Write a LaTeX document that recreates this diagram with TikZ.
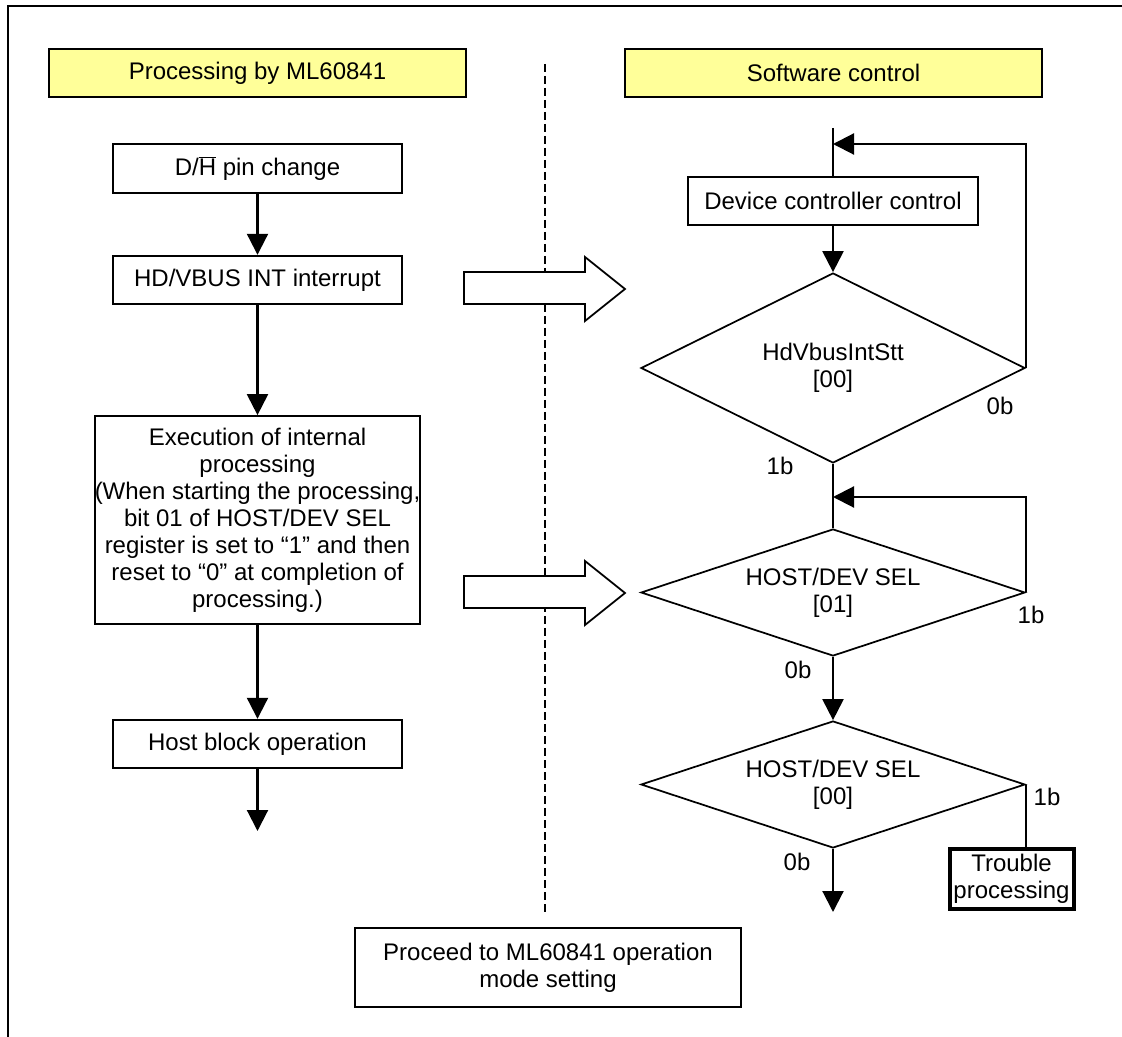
\documentclass[tikz,border=0pt]{standalone}
\usepackage{fontspec}
\setmainfont{Liberation Sans}
\usetikzlibrary{arrows.meta,shapes.geometric}
\definecolor{hdryellow}{HTML}{FFFF99}
\begin{document}
\begin{tikzpicture}[x=0.75pt,y=-0.75pt,
  every node/.style={font=\fontsize{18}{20.25}\selectfont, align=center, inner sep=0pt},
  box/.style={draw, line width=1.3pt, rectangle},
  hdr/.style={box, fill=hdryellow, minimum width=312.75pt, minimum height=36pt},
  procbox/.style={box, minimum width=216.75pt, minimum height=36.5pt},
  dec/.style={draw, line width=1.3pt, diamond, aspect=3, minimum width=288pt},
  ln/.style={line width=1.6pt},
  arr/.style={ln, -{Triangle[width=15.75pt,length=15.75pt]}},
  hollow/.style={draw, line width=1.3pt, fill=white, line join=miter}]
\useasboundingbox (0,0) rectangle (1122,1037);
% outer frame
\draw[line width=1.6pt] (8,1045) -- (8,6) -- (1130,6);
% divider
\draw[line width=1.2pt, dash pattern=on 6pt off 3pt] (545,64) -- (545,912);
% headers
\node[hdr] (h1) at (257.5,73) {Processing by ML60841};
\node[hdr] (h2) at (833.5,73) {Software control};
% left column
\node[procbox] (dh) at (257.5,168.5) {D/$\overline{\hbox{H}}$ pin change};
\node[procbox] (hd) at (257.5,280) {HD/VBUS INT interrupt};
\node[box, minimum width=234pt, minimum height=156pt] (ex) at (257.5,520)
  {Execution of internal\\processing\\(When starting the processing,\\bit 01 of HOST/DEV SEL\\register is set to “1” and then\\reset to “0” at completion of\\processing.)};
\node[procbox] (hb) at (257.5,744) {Host block operation};
\coordinate (hbend) at (257.5,831);
\draw[arr] (dh) -- (hd);
\draw[arr] (hd) -- (ex);
\draw[arr] (ex) -- (hb);
\draw[arr] (hb) -- (hbend);
% right column
\coordinate (rtop) at (833,128);
\node[box, minimum width=217.5pt, minimum height=36pt] (dcc) at (833,201) {Device controller control};
\node[dec, minimum height=142.5pt] (d1) at (833,368) {HdVbusIntStt\\{[00]}};
\node[dec, minimum height=95.25pt] (d2) at (833,592.5) {HOST/DEV SEL\\{[01]}};
\node[dec, minimum height=95.25pt] (d3) at (833,784.5) {HOST/DEV SEL\\{[00]}};
\node[draw, line width=3pt, minimum width=93pt, minimum height=45pt] (tr) at (1011.5,878.5) {Trouble\\processing};
\coordinate (loop1) at (833,144);
\coordinate (loop2) at (833,497);
\coordinate (d3end) at (833,912);
\draw[ln] (rtop) -- (dcc.north);
\draw[arr] (dcc) -- (d1.north);
\draw[arr] (d1.east) -- (d1.east |- loop1) -- (loop1);
\draw[ln] (d1.south) -- (d2.north);
\draw[arr] (d2.east) -- (d2.east |- loop2) -- (loop2);
\draw[arr] (d2.south) -- (d3.north);
\draw[ln] (d3.east) -- (d3.east |- tr.north);
\draw[arr] (d3.south) -- (d3end);
% branch labels
\node (l1) at (1000,406) {0b};
\node (l2) at (780,466) {1b};
\node (l3) at (1031,615) {1b};
\node (l4) at (798,670) {0b};
\node (l5) at (1047,797) {1b};
\node (l6) at (797,862) {0b};
% hollow arrows
\draw[hollow] (464,272) -- (585,272) -- (585,257) -- (625,289) -- (585,321) -- (585,304) -- (464,304) -- cycle;
\draw[hollow] (464,576) -- (585,576) -- (585,561) -- (625,593) -- (585,625) -- (585,608) -- (464,608) -- cycle;
% final box
\node[box, minimum width=289.5pt, minimum height=59.25pt] (fin) at (548,967.5) {Proceed to ML60841 operation\\mode setting};
\end{tikzpicture}
\end{document}
